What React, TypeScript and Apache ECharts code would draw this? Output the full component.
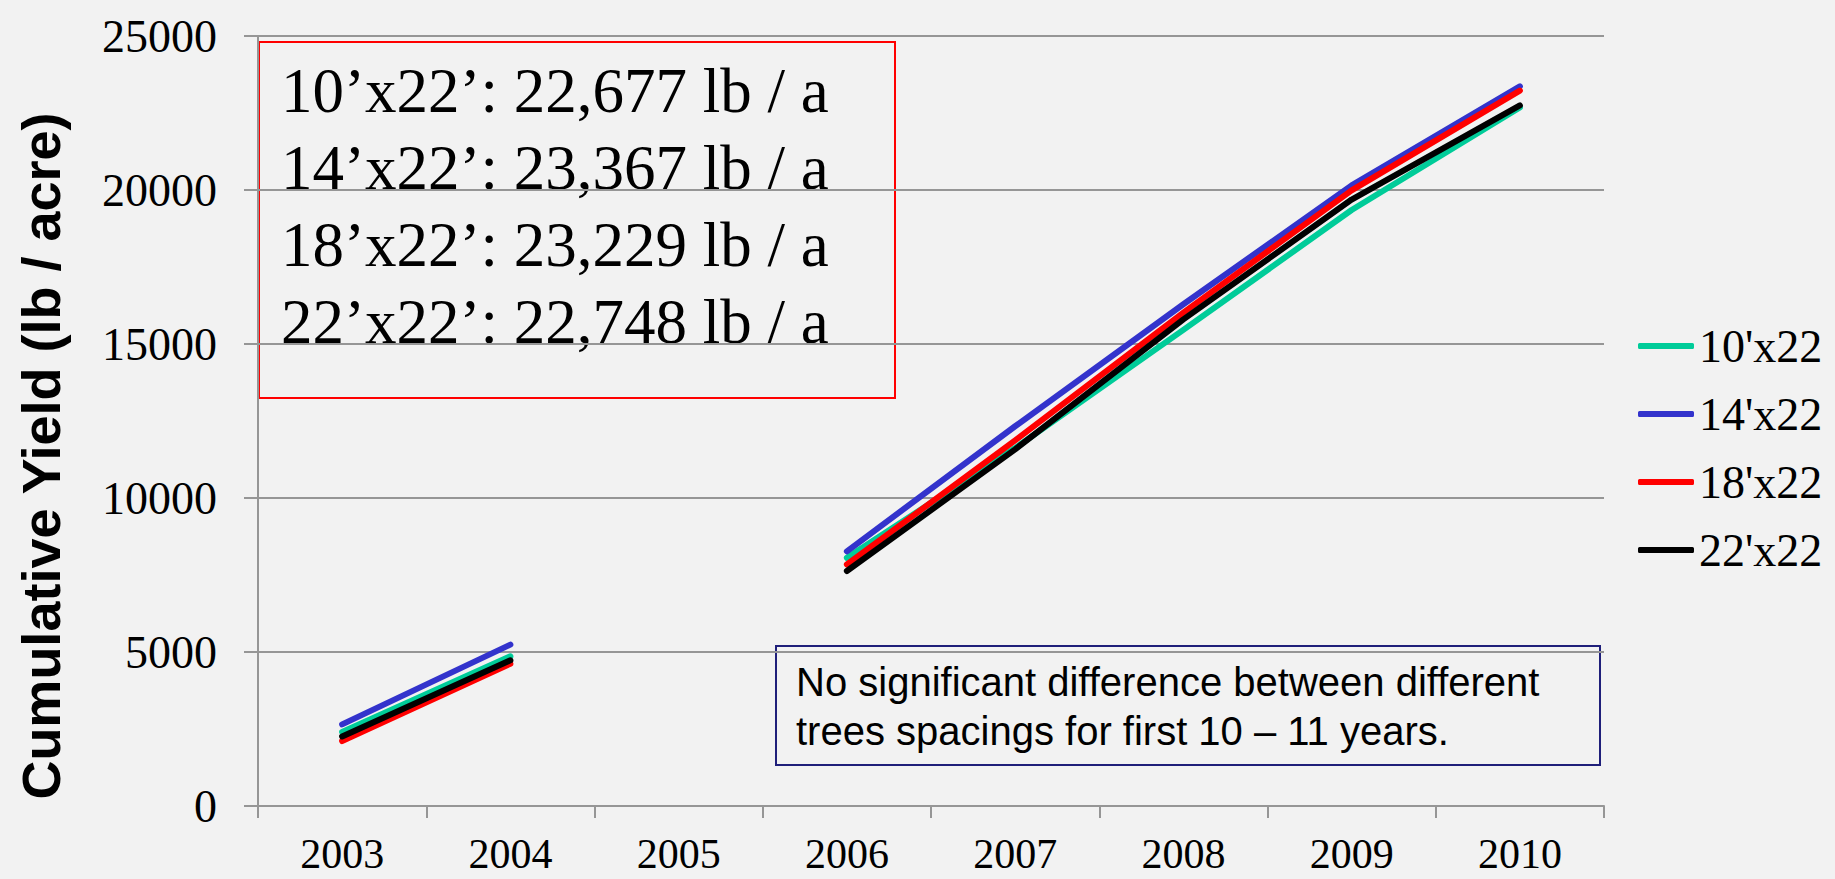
import React, { useEffect, useRef } from "react";
import * as echarts from "echarts";

const years = ["2003", "2004", "2005", "2006", "2007", "2008", "2009", "2010"];
const seriesNames = ["10'x22", "14'x22", "18'x22", "22'x22"];
const s10 = [2400, 4860, null, 8060, 11620, 15460, 19350, 22677];
const s14 = [2650, 5240, null, 8270, 12330, 16290, 20150, 23367];
const s18 = [2110, 4620, null, 7840, 11870, 16020, 19990, 23229];
const s22 = [2260, 4730, null, 7630, 11580, 15800, 19690, 22748];
const colors = ["#00CC99", "#3333CC", "#FF0000", "#000000"];
const totalsText = [
  "10’x22’: 22,677 lb / a",
  "14’x22’: 23,367 lb / a",
  "18’x22’: 23,229 lb / a",
  "22’x22’: 22,748 lb / a",
];
const noteText = [
  "No significant difference between different",
  "trees spacings for first 10 – 11 years.",
];
const yTitle = "Cumulative Yield (lb / acre)";

export default function App() {
  const ref = useRef<HTMLDivElement>(null);
  useEffect(() => {
    if (!ref.current) return;
    const chart = echarts.init(ref.current, undefined, { renderer: "svg" });
    const data = [s10, s14, s18, s22];
    const serif = "'Liberation Serif', 'Times New Roman', serif";
    const sans = "'Liberation Sans', Arial, sans-serif";
    chart.setOption({
      animation: false,
      backgroundColor: "#F2F2F2",
      grid: { left: 258, right: 231, top: 36, bottom: 73, containLabel: false },
      xAxis: {
        type: "category",
        data: years,
        boundaryGap: true,
        axisLine: { lineStyle: { color: "#969696", width: 2 } },
        axisTick: { show: true, length: 12, lineStyle: { color: "#969696", width: 2 } },
        axisLabel: {
          fontFamily: serif,
          fontSize: 42,
          lineHeight: 40,
          color: "#000",
          margin: 28,
        },
        splitLine: { show: false },
      },
      yAxis: {
        type: "value",
        min: 0,
        max: 25000,
        interval: 5000,
        axisLine: { show: true, lineStyle: { color: "#969696", width: 2 } },
        axisTick: { show: true, length: 14, lineStyle: { color: "#969696", width: 2 } },
        axisLabel: {
          fontFamily: serif,
          fontSize: 46,
          color: "#000",
          margin: 41,
          formatter: (v: number) => String(v),
        },
        splitLine: { show: true, lineStyle: { color: "#969696", width: 2 } },
      },
      legend: {
        orient: "vertical",
        left: 1633,
        top: 318,
        icon: "roundRect",
        itemWidth: 56,
        itemHeight: 6,
        itemGap: 22,
        textStyle: { fontFamily: serif, fontSize: 46, color: "#000", lineHeight: 46, padding: [0, 0, 0, 0] },
        data: seriesNames,
      },
      series: seriesNames.map((name, i) => ({
        name,
        type: "line",
        data: data[i],
        showSymbol: false,
        symbol: "none",
        connectNulls: false,
        color: colors[i],
        lineStyle: { color: colors[i], width: 6, cap: "round", join: "round" },
        itemStyle: { color: colors[i] },
      })),
      graphic: [
        {
          type: "text",
          x: 41,
          y: 456,
          rotation: Math.PI / 2,
          style: {
            text: yTitle,
            fontFamily: sans,
            fontWeight: "bold",
            fontSize: 54,
            fill: "#000",
            textAlign: "center",
            textVerticalAlign: "middle",
          },
        },
        {
          type: "rect",
          shape: { x: 259, y: 42, width: 636, height: 356 },
          style: { fill: "#F2F2F2", stroke: "#FF0000", lineWidth: 2 },
        },
        {
          type: "text",
          x: 281,
          y: 52,
          style: {
            text: totalsText.join("\n"),
            fontFamily: serif,
            fontSize: 63,
            lineHeight: 77,
            fill: "#000",
            textAlign: "left",
            textVerticalAlign: "top",
          },
        },
        {
          type: "rect",
          shape: { x: 776, y: 646, width: 824, height: 119 },
          style: { fill: "#F2F2F2", stroke: "#1F1F7A", lineWidth: 2 },
        },
        {
          type: "text",
          x: 796,
          y: 657,
          style: {
            text: noteText.join("\n"),
            fontFamily: sans,
            fontSize: 40,
            lineHeight: 49,
            fill: "#000",
            textAlign: "left",
            textVerticalAlign: "top",
          },
        },
      ],
    });
    return () => chart.dispose();
  }, []);
  return (
    <div
      ref={ref}
      style={{ position: "fixed", left: 0, top: 0, width: 1835, height: 879 }}
    />
  );
}
